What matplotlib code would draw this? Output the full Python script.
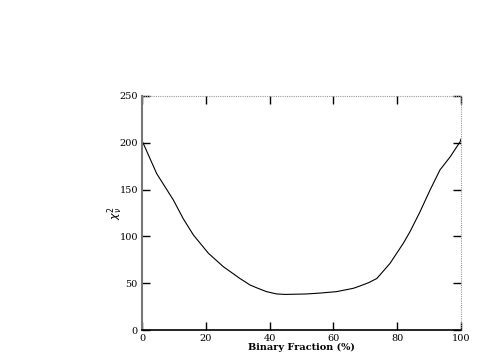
import matplotlib
matplotlib.use("Agg")
import matplotlib.pyplot as plt
import numpy as np

# binary fraction (%) vs reduced chi-square
frac = [0.3, 4.6, 9.8, 12.9, 16.1, 20.8, 25.5, 30.7, 33.9, 36.0, 39.0, 42.2, 45.0,
        51.6, 56.0, 61.0, 66.2, 68.3, 71.0, 73.6, 77.7, 81.9, 84.0, 87.1, 90.3,
        93.4, 96.6, 99.7, 100.0]
chi2 = [200, 167, 139, 119, 101.5, 82, 67.6, 55, 48, 45, 41, 38.5, 38,
        38.5, 39.5, 41, 44.5, 47, 50.5, 55, 71, 92.6, 105, 126, 149.6,
        171, 185, 201, 204]

fig = plt.figure(figsize=(4.79, 3.64), dpi=100)
ax = fig.add_axes([0.2965, 0.0934, 0.666, 0.643])

ax.plot(frac, chi2, color="black", lw=0.8)

ax.set_xlim(0, 100)
ax.set_ylim(0, 250)
ax.set_xticks(np.arange(0, 101, 20))
ax.set_yticks(np.arange(0, 251, 50))

ax.tick_params(direction="in", length=6, width=1.0, top=True, right=True,
               labelsize=7, pad=3, color="black")
for lab in ax.get_xticklabels() + ax.get_yticklabels():
    lab.set_family("DejaVu Serif")

ax.spines["left"].set_color("#777777")
ax.spines["left"].set_linewidth(1.5)
ax.spines["bottom"].set_color("black")
ax.spines["bottom"].set_linewidth(1.2)
for s in ["top", "right"]:
    ax.spines[s].set_color("#999999")
    ax.spines[s].set_linewidth(0.8)
    ax.spines[s].set_linestyle((0, (1, 1)))
    ax.spines[s].set_capstyle("butt")

ax.set_xlabel("Binary Fraction (%)", fontsize=7, family="DejaVu Serif",
              fontweight="bold", labelpad=0)
ax.set_ylabel(r"$\chi_\nu^2$", fontsize=8, labelpad=-4)

fig.savefig("out.png", dpi=100)
